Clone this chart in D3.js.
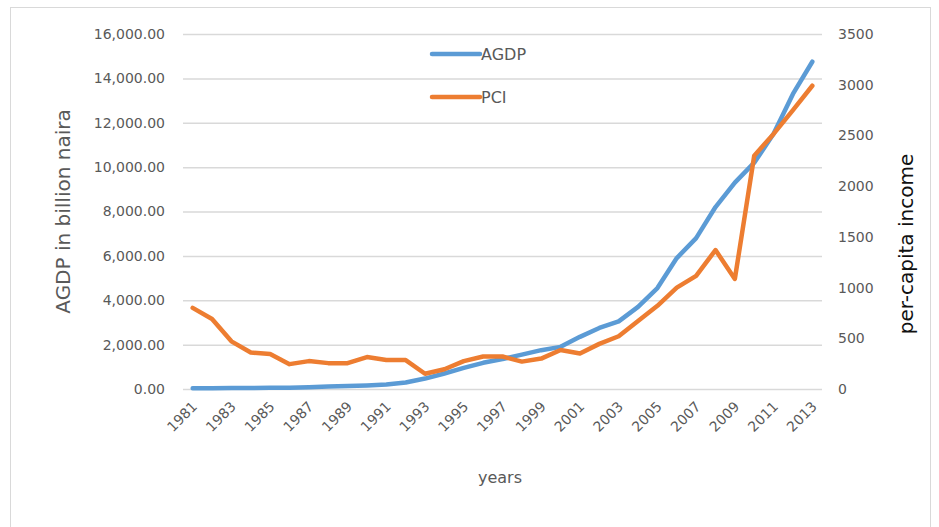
<!DOCTYPE html>
<html>
<head>
<meta charset="utf-8">
<script src="https://cdn.jsdelivr.net/npm/d3@7"></script>
<style>
  body { margin: 0; background: #fff; }
  text { font-family: "DejaVu Sans", sans-serif; }
</style>
</head>
<body>
<div id="chart"></div>
<script>
var years = d3.range(1981, 2014);
var agdp = [30, 35, 40, 45, 55, 60, 80, 110, 130, 160, 200, 290, 470, 700, 950,
            1180, 1350, 1550, 1750, 1900, 2350, 2750, 3050, 3700, 4550, 5900,
            6800, 8200, 9300, 10200, 11500, 13300, 14750];
var pci = [800, 690, 470, 360, 345, 245, 275, 255, 255, 315, 285, 285, 150, 195,
           275, 320, 320, 270, 300, 385, 350, 445, 520, 670, 820, 1000, 1115,
           1370, 1085, 2300, 2515, 2750, 2990];
var leftTicks = [0, 2000, 4000, 6000, 8000, 10000, 12000, 14000, 16000];
var rightTicks = [0, 500, 1000, 1500, 2000, 2500, 3000, 3500];
var yearTicks = years.filter(function(d) { return (d - 1981) % 2 === 0; });

var width = 939, height = 527;
var plotLeft = 183, plotRight = 822, plotTop = 34, plotBottom = 389;
var blue = '#5b9bd5', orange = '#ed7d31', grey = '#595959';

var svg = d3.select('#chart')
    .append('svg')
    .attr('width', width)
    .attr('height', height);

// chart border
svg.append('rect')
    .attr('x', 10.5).attr('y', 7.5)
    .attr('width', 920).attr('height', 540)
    .attr('fill', 'none')
    .attr('stroke', '#d9d9d9');

var x = d3.scaleBand().domain(years).range([plotLeft, plotRight]);
var yL = d3.scaleLinear().domain([0, 16000]).range([plotBottom, plotTop]);
var yR = d3.scaleLinear().domain([0, 3500]).range([plotBottom, plotTop]);
var cx = function(d) { return x(d) + x.bandwidth() / 2; };

// gridlines
svg.append('g')
    .attr('transform', 'translate(' + plotLeft + ',0)')
    .call(d3.axisLeft(yL).tickValues(leftTicks).tickSize(-(plotRight - plotLeft)).tickFormat(''))
    .call(function(g) {
      g.select('.domain').remove();
      g.selectAll('line').attr('stroke', '#d9d9d9').attr('stroke-width', 1.5);
    });

// left axis
svg.append('g')
    .attr('transform', 'translate(' + plotLeft + ',0)')
    .call(d3.axisLeft(yL).tickValues(leftTicks).tickSize(0).tickPadding(18)
      .tickFormat(d3.format(',.2f')))
    .call(function(g) {
      g.select('.domain').remove();
      g.selectAll('text').attr('fill', grey).style('font-size', '14px');
    });

// right axis
svg.append('g')
    .attr('transform', 'translate(' + plotRight + ',0)')
    .call(d3.axisRight(yR).tickValues(rightTicks).tickSize(0).tickPadding(16)
      .tickFormat(d3.format('d')))
    .call(function(g) {
      g.select('.domain').remove();
      g.selectAll('text').attr('fill', grey).style('font-size', '14px');
    });

// x axis
svg.append('g')
    .attr('transform', 'translate(0,' + plotBottom + ')')
    .call(d3.axisBottom(x).tickValues(yearTicks).tickSize(0))
    .call(function(g) {
      g.select('.domain').remove();
      g.selectAll('text')
        .attr('fill', grey)
        .style('font-size', '14px')
        .attr('x', 0).attr('y', 0).attr('dy', '0.35em')
        .attr('text-anchor', 'end')
        .attr('transform', 'translate(2,15) rotate(-45)');
    });

// axis titles
svg.append('text')
    .attr('transform', 'translate(70,' + (plotTop + plotBottom) / 2 + ') rotate(-90)')
    .attr('text-anchor', 'middle')
    .attr('fill', grey)
    .style('font-size', '20px')
    .text('AGDP in billion naira');
svg.append('text')
    .attr('transform', 'translate(913,244) rotate(-90)')
    .attr('text-anchor', 'middle')
    .attr('fill', '#111')
    .style('font-size', '20px')
    .text('per-capita income');
svg.append('text')
    .attr('x', 500).attr('y', 483)
    .attr('text-anchor', 'middle')
    .attr('fill', grey)
    .style('font-size', '16px')
    .text('years');

// lines
var lineL = d3.line()
    .x(function(d, i) { return cx(years[i]); })
    .y(function(d) { return yL(d); });
var lineR = d3.line()
    .x(function(d, i) { return cx(years[i]); })
    .y(function(d) { return yR(d); });

svg.append('path')
    .datum(agdp)
    .attr('d', lineL)
    .attr('fill', 'none')
    .attr('stroke', blue)
    .attr('stroke-width', 4.5)
    .attr('stroke-linejoin', 'round')
    .attr('stroke-linecap', 'round');
svg.append('path')
    .datum(pci)
    .attr('d', lineR)
    .attr('fill', 'none')
    .attr('stroke', orange)
    .attr('stroke-width', 4.5)
    .attr('stroke-linejoin', 'round')
    .attr('stroke-linecap', 'round');

// legend
var legend = [{name: 'AGDP', color: blue, y: 54}, {name: 'PCI', color: orange, y: 97}];
var lg = svg.selectAll('.legend')
    .data(legend)
    .enter().append('g')
    .attr('class', 'legend')
    .attr('transform', function(d) { return 'translate(432,' + d.y + ')'; });
lg.append('line')
    .attr('x1', 0).attr('x2', 48)
    .attr('stroke', function(d) { return d.color; })
    .attr('stroke-width', 4.5)
    .attr('stroke-linecap', 'round');
lg.append('text')
    .attr('x', 49).attr('dy', '0.35em')
    .attr('fill', grey)
    .style('font-size', '16px')
    .text(function(d) { return d.name; });
</script>
</body>
</html>
